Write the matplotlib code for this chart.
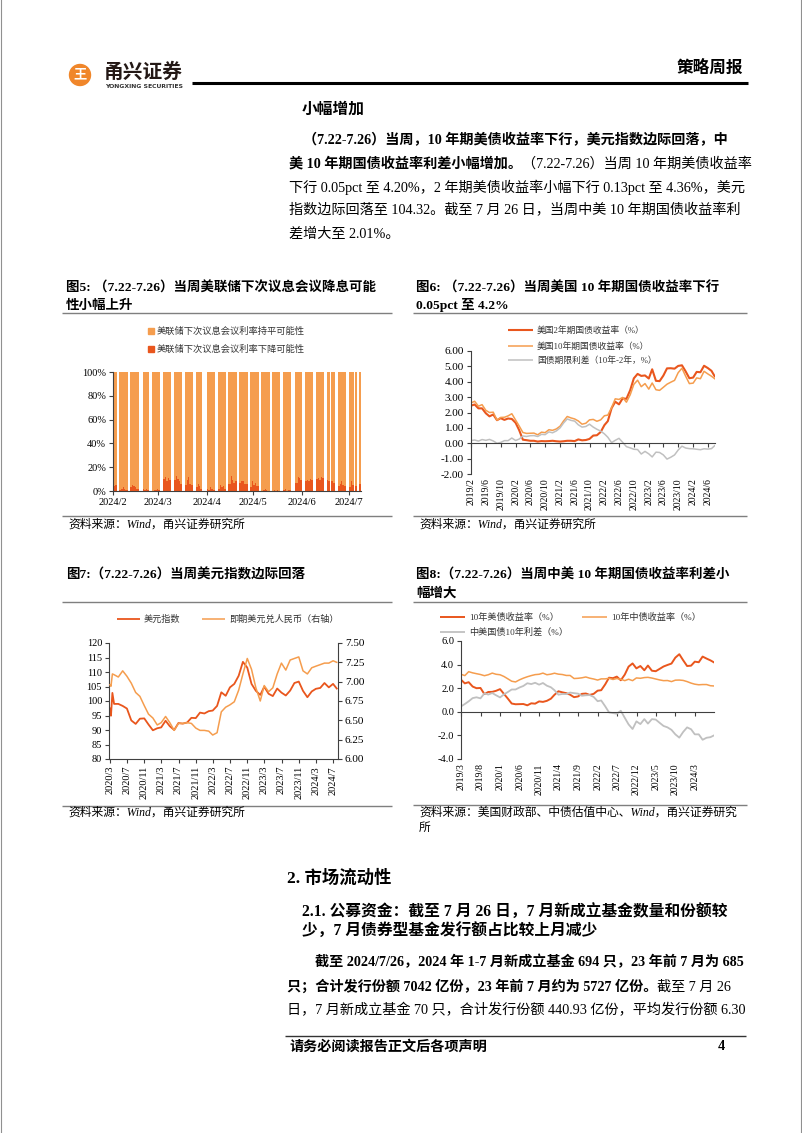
import matplotlib
matplotlib.use("Agg")
import matplotlib.pyplot as plt
import matplotlib.dates as mdates
from matplotlib.patches import Circle, Rectangle
from matplotlib.ticker import FuncFormatter
import numpy as np
import pandas as pd

W, H = 802, 1133
plt.rcParams["font.family"] = ["Liberation Serif", "Noto Sans CJK SC"]
plt.rcParams["axes.unicode_minus"] = False

DARK = "#E9561D"
LIGHT = "#F59D4E"
GRAY = "#C0C0C0"
AXC = "#404040"

# ---- 图5: 美联储下次议息会议利率概率 (%), 每个交易日
fed_holidays = ["2024-02-19", "2024-03-29", "2024-05-27", "2024-06-19", "2024-07-04"]
fed_down = [
    4, 5,
    1, 2, 3, 2, 1,
    3, 5, 4, 3, 2,
    2, 1, 2, 1,
    0, 1, 1, 2, 1,
    10, 12, 8, 11, 9,
    9, 13, 10, 8, 6,
    5, 9, 12, 6, 5,
    3, 6, 4, 2,
    2, 1, 3, 2, 1,
    2, 5, 3, 4, 2,
    6, 13, 9, 7, 8,
    7, 8, 8, 6, 6,
    3, 8, 5, 7, 4,
    0, 1, 2, 1, 0,
    0, 1, 0, 1, 0,
    1, 2, 0, 1, 1,
    7, 12, 11, 9,
    8, 9, 8, 10, 9,
    10, 11, 9, 12, 11,
    9, 8,
    8, 7,
    4, 6, 8, 5, 4,
    3, 8, 5,
    4,
    6,
]
fed_hold = [
    96, 95,
    99, 98, 97, 98, 99,
    97, 95, 96, 97, 98,
    98, 99, 98, 99,
    100, 99, 99, 98, 99,
    90, 88, 92, 89, 91,
    91, 87, 90, 92, 94,
    95, 91, 88, 94, 95,
    97, 94, 96, 98,
    98, 99, 97, 98, 99,
    98, 95, 97, 96, 98,
    94, 87, 91, 93, 92,
    93, 92, 92, 94, 94,
    97, 92, 95, 93, 96,
    100, 99, 98, 99, 100,
    100, 99, 100, 99, 100,
    99, 98, 100, 99, 99,
    93, 88, 89, 91,
    92, 91, 92, 90, 91,
    90, 89, 91, 88, 89,
    91, 92,
    92, 93,
    96, 94, 92, 95, 96,
    97, 92, 95,
    96,
    94,
]

# ---- 图6/图8: 月末收益率 (%), 2019/1 - 2024/6, 最后一点 2024/7/26
us10y = [2.63, 2.73, 2.41, 2.51, 2.14, 2.00, 2.02, 1.50, 1.68, 1.69, 1.78, 1.92,
         1.51, 1.13, 0.70, 0.64, 0.65, 0.66, 0.55, 0.72, 0.69, 0.88, 0.84, 0.93,
         1.11, 1.44, 1.74, 1.65, 1.58, 1.45, 1.24, 1.30, 1.52, 1.55, 1.43, 1.52,
         1.79, 1.83, 2.32, 2.89, 2.85, 2.98, 2.67, 3.15, 3.83, 4.10, 3.68, 3.88,
         3.52, 3.92, 3.48, 3.44, 3.64, 3.84, 3.97, 4.09, 4.59, 4.88, 4.37, 3.88,
         3.91, 4.25, 4.20, 4.68, 4.51, 4.36, 4.20]
us2y = [2.45, 2.52, 2.27, 2.27, 1.95, 1.75, 1.87, 1.50, 1.63, 1.52, 1.61, 1.58,
        1.33, 0.86, 0.23, 0.20, 0.16, 0.16, 0.11, 0.14, 0.13, 0.14, 0.16, 0.13,
        0.11, 0.13, 0.16, 0.16, 0.14, 0.25, 0.19, 0.21, 0.28, 0.50, 0.52, 0.73,
        1.18, 1.44, 2.28, 2.70, 2.53, 2.92, 2.89, 3.45, 4.22, 4.51, 4.38, 4.41,
        4.21, 4.81, 4.06, 4.04, 4.40, 4.87, 4.88, 4.85, 5.03, 5.07, 4.68, 4.23,
        4.27, 4.64, 4.62, 5.04, 4.89, 4.71, 4.36]
us_term = [0.18, 0.21, 0.14, 0.24, 0.19, 0.25, 0.15, 0.00, 0.05, 0.17, 0.17, 0.34,
           0.18, 0.27, 0.47, 0.44, 0.49, 0.50, 0.44, 0.58, 0.56, 0.74, 0.68, 0.80,
           1.00, 1.31, 1.58, 1.49, 1.44, 1.20, 1.05, 1.09, 1.24, 1.05, 0.91, 0.79,
           0.61, 0.39, 0.04, 0.19, 0.32, 0.06, -0.22, -0.30, -0.39, -0.41, -0.70, -0.53,
           -0.69, -0.89, -0.58, -0.60, -0.76, -1.03, -0.91, -0.76, -0.44, -0.19, -0.31, -0.35,
           -0.36, -0.39, -0.42, -0.36, -0.38, -0.35, -0.16]
cn10y = [3.10, 3.18, 3.07, 3.40, 3.30, 3.23, 3.16, 3.06, 3.14, 3.28, 3.18, 3.14,
         2.99, 2.80, 2.59, 2.53, 2.71, 2.85, 2.97, 3.07, 3.15, 3.18, 3.28, 3.14,
         3.19, 3.27, 3.19, 3.16, 3.08, 3.08, 2.82, 2.84, 2.88, 2.95, 2.85, 2.78,
         2.69, 2.79, 2.79, 2.84, 2.74, 2.82, 2.76, 2.64, 2.76, 2.64, 2.87, 2.84,
         2.90, 2.92, 2.86, 2.78, 2.70, 2.64, 2.65, 2.56, 2.68, 2.69, 2.66, 2.56,
         2.43, 2.34, 2.29, 2.31, 2.31, 2.21, 2.19]
cn_us = [0.47, 0.45, 0.66, 0.89, 1.16, 1.23, 1.14, 1.56, 1.46, 1.59, 1.40, 1.22,
         1.48, 1.67, 1.89, 1.89, 2.06, 2.19, 2.42, 2.35, 2.46, 2.30, 2.44, 2.21,
         2.08, 1.83, 1.45, 1.51, 1.50, 1.63, 1.58, 1.54, 1.36, 1.40, 1.42, 1.26,
         0.90, 0.96, 0.47, -0.05, -0.11, -0.16, 0.09, -0.51, -1.07, -1.46, -0.81, -1.04,
         -0.62, -1.00, -0.62, -0.66, -0.94, -1.20, -1.32, -1.53, -1.91, -2.19, -1.71, -1.32,
         -1.48, -1.91, -1.91, -2.37, -2.20, -2.15, -2.01]

# ---- 图7: 美元指数 / 即期美元兑人民币, 2020/3 三个点 + 月末 + 2024/7/26
dxy = [97.4, 94.9, 102.8,
       99.0, 99.0, 98.3, 97.4, 93.3, 92.1, 93.9, 94.0, 91.9, 89.9,
       90.6, 90.9, 93.2, 91.3, 90.0, 92.4, 92.2, 92.6, 94.2, 94.1, 96.0, 95.7,
       96.5, 96.7, 98.3, 103.0, 101.8, 104.7, 105.9, 108.7, 113.5, 111.5, 105.9, 103.5,
       102.1, 104.9, 102.5, 101.7, 104.3, 102.9, 101.9, 103.6, 106.2, 106.7, 103.5, 101.3,
       103.3, 104.2, 104.5, 106.2, 104.7, 105.9, 104.3]
usdcny = [6.96, 6.94, 7.10,
          7.09, 7.06, 7.14, 7.07, 6.98, 6.86, 6.81, 6.69, 6.58, 6.53,
          6.44, 6.47, 6.55, 6.47, 6.37, 6.46, 6.46, 6.47, 6.46, 6.40, 6.37, 6.37,
          6.36, 6.31, 6.34, 6.61, 6.67, 6.70, 6.74, 6.89, 7.10, 7.30, 7.16, 6.92,
          6.75, 6.95, 6.87, 6.92, 7.10, 7.24, 7.15, 7.28, 7.30, 7.32, 7.14, 7.10,
          7.18, 7.20, 7.22, 7.24, 7.24, 7.27, 7.25]

fed_dates = pd.bdate_range("2024-02-01", "2024-07-08", freq="C", holidays=fed_holidays)
us_dates = list(pd.date_range("2019-01-31", "2024-06-30", freq="ME")) + [pd.Timestamp("2024-07-26")]
fx_dates = (list(pd.to_datetime(["2020-03-02", "2020-03-09", "2020-03-19"]))
            + list(pd.date_range("2020-03-31", "2024-06-30", freq="ME"))
            + [pd.Timestamp("2024-07-26")])

fig = plt.figure(figsize=(W / 100, H / 100), dpi=100)
page = fig.add_axes([0, 0, 1, 1])
page.set_xlim(0, W)
page.set_ylim(H, 0)
page.axis("off")


def box(x0, y0, x1, y1):
    return [x0 / W, 1 - y1 / H, (x1 - x0) / W, (y1 - y0) / H]


def txt(x, y, s, size, bold=False, **kw):
    kw.setdefault("ha", "left")
    kw.setdefault("va", "center")
    return page.text(x, y, s, fontsize=size, fontweight="bold" if bold else "normal",
                     color=kw.pop("color", "black"), **kw)


def runs(x, y, parts, size):
    prev = None
    for s, bold in parts:
        w = "bold" if bold else "normal"
        if prev is None:
            prev = page.text(x, y, s, fontsize=size, fontweight=w, ha="left", va="center")
        else:
            prev = page.annotate(s, xy=(1, 0.5), xycoords=prev, fontsize=size,
                                 fontweight=w, ha="left", va="center")


def hline(x0, x1, y, color, lw):
    page.plot([x0, x1], [y, y], color=color, lw=lw, solid_capstyle="butt")


def leg_line(x0, x1, y, color, lw, label, size=6.6):
    hline(x0, x1, y, color, lw)
    txt(x1 + 4, y, label, size, color="#333333")


def style_axes(ax, size=7.5):
    for s in ["top", "right"]:
        ax.spines[s].set_visible(False)
    for s in ["left", "bottom"]:
        ax.spines[s].set_color(AXC)
        ax.spines[s].set_linewidth(0.8)
    ax.tick_params(direction="out", length=3, width=0.8, color=AXC, labelsize=size, pad=2)
    ax.set_facecolor("none")


def ym(d):
    return f"{d.year}/{d.month}"


def low_labels(ax, ticks, size=7):
    ax.tick_params(axis="x", labelbottom=False)
    for d in ticks:
        ax.annotate(ym(d), xy=(mdates.date2num(d), 0), xycoords=("data", "axes fraction"),
                    xytext=(0, -3), textcoords="offset points", rotation=90,
                    ha="center", va="top", fontsize=size)


# ---- page frame and header
page.plot([0.8, 0.8], [0, H], color="#909090", lw=0.8)
page.plot([W - 0.8, W - 0.8], [0, H], color="#909090", lw=0.8)
page.add_patch(Circle((80, 75), 10.5, color="#F0862A", zorder=3))
txt(80, 75, "王", 9.5, bold=True, ha="center", color="white", zorder=4)
txt(104, 72, "甬兴证券", 14.2, bold=True, color="#231815", family="Noto Sans CJK SC")
txt(105, 87, "YONGXING SECURITIES", 4.4, bold=True, color="#333333", family="DejaVu Sans")
hline(192, 748, 83, "black", 2.2)
txt(743, 69, "策略周报", 12, bold=True, ha="right")

# ---- body text
txt(302, 110, "小幅增加", 11.3, bold=True)
BS = 10.2
runs(303, 140, [("（7.22-7.26）当周，10 年期美债收益率下行，美元指数边际回落，中", True)], BS)
runs(289, 163.5, [("美 10 年期国债收益率利差小幅增加。", True),
                  ("（7.22-7.26）当周 10 年期美债收益率", False)], BS)
runs(289, 187, [("下行 0.05pct 至 4.20%，2 年期美债收益率小幅下行 0.13pct 至 4.36%，美元", False)], BS)
runs(289, 210.5, [("指数边际回落至 104.32。截至 7 月 26 日，当周中美 10 年期国债收益率利", False)], BS)
runs(289, 234, [("差增大至 2.01%。", False)], BS)

# ---- figure frames
TS = 9.7
SS = 8.5
for x0, x1, ytop, ybot in [(62, 392, 313, 516), (413, 747, 313, 516),
                           (62, 392, 602, 806), (413, 747, 602, 805)]:
    hline(x0, x1, ytop, "#7F7F7F", 1.0)
    hline(x0, x1, ybot, "#7F7F7F", 1.0)

txt(66, 288, "图5: （7.22-7.26）当周美联储下次议息会议降息可能", TS, bold=True)
txt(66, 305.5, "性小幅上升", TS, bold=True)
txt(416, 288, "图6: （7.22-7.26）当周美国 10 年期国债收益率下行", TS, bold=True)
txt(416, 305.5, "0.05pct 至 4.2%", TS, bold=True)
txt(66, 575, "图7:（7.22-7.26）当周美元指数边际回落", TS, bold=True)
txt(416, 575, "图8:（7.22-7.26）当周中美 10 年期国债收益率利差小", TS, bold=True)
txt(416, 593, "幅增大", TS, bold=True)

txt(68, 525, "资料来源：Wind，甬兴证券研究所", SS, fontstyle="italic")
txt(419, 525, "资料来源：Wind，甬兴证券研究所", SS, fontstyle="italic")
txt(68, 813, "资料来源：Wind，甬兴证券研究所", SS, fontstyle="italic")
txt(419, 813, "资料来源：美国财政部、中债估值中心、Wind，甬兴证券研究", SS, fontstyle="italic")
txt(419, 828, "所", SS, fontstyle="italic")

# ---- 图5
page.add_patch(Rectangle((148, 328), 6, 6, color=LIGHT))
txt(157, 331, "美联储下次议息会议利率持平可能性", 6.7, color="#333333")
page.add_patch(Rectangle((148, 346), 6, 6, color=DARK))
txt(157, 349, "美联储下次议息会议利率下降可能性", 6.7, color="#333333")

ax5 = fig.add_axes(box(113, 372, 361, 491))
x5 = mdates.date2num(fed_dates)
ax5.bar(x5, fed_down, width=1.35, align="edge", color=DARK, lw=0, antialiased=False)
ax5.bar(x5, fed_hold, bottom=fed_down, width=1.35, align="edge", color=LIGHT, lw=0,
        antialiased=False, zorder=1.5)
ax5.xaxis_date()
ax5.set_xlim(pd.Timestamp("2024-02-01"), pd.Timestamp("2024-07-09"))
ax5.set_ylim(0, 100)
ax5.set_yticks(range(0, 101, 20))
ax5.yaxis.set_major_formatter(FuncFormatter(lambda v, _: f"{v:.0f}%"))
t5 = pd.date_range("2024-02-01", "2024-07-01", freq="MS")
ax5.set_xticks(mdates.date2num(t5))
ax5.set_xticklabels([ym(d) for d in t5])
style_axes(ax5)

# ---- 图6
leg_line(508, 533, 330, DARK, 1.5, "美国2年期国债收益率（%）", 6.3)
leg_line(508, 533, 346, LIGHT, 1.1, "美国10年期国债收益率（%）", 6.3)
leg_line(508, 533, 360, GRAY, 1.1, "国债期限利差（10年-2年，%）", 6.3)

ax6 = fig.add_axes(box(471, 351, 715, 474))
ax6.plot(us_dates, us2y, color=DARK, lw=1.5)
ax6.plot(us_dates, us10y, color=LIGHT, lw=1.1)
ax6.plot(us_dates, us_term, color=GRAY, lw=1.1)
ax6.set_xlim(pd.Timestamp("2019-01-29"), pd.Timestamp("2024-07-29"))
ax6.set_ylim(-2, 6)
ax6.set_yticks(np.arange(-2, 6.01, 1))
ax6.yaxis.set_major_formatter(FuncFormatter(lambda v, _: f"{v:.2f}"))
t6 = pd.date_range("2019-02-01", "2024-06-01", freq="4MS")
ax6.set_xticks(t6)
style_axes(ax6, 8)
ax6.spines["bottom"].set_position(("data", 0))
low_labels(ax6, t6)

# ---- 图7
leg_line(117, 140, 619, DARK, 1.3, "美元指数")
leg_line(202, 225, 619, LIGHT, 1.1, "即期美元兑人民币（右轴）")

ax7 = fig.add_axes(box(109, 643, 338, 759))
ax7.plot(fx_dates, dxy, color=DARK, lw=1.3)
ax7.set_xlim(pd.Timestamp("2020-02-24"), pd.Timestamp("2024-08-04"))
ax7.set_ylim(80, 120)
ax7.set_yticks(range(80, 121, 5))
t7 = pd.date_range("2020-03-01", "2024-07-01", freq="4MS")
ax7.set_xticks(t7)
ax7.set_xticklabels([ym(d) for d in t7], rotation=90, fontsize=7)
style_axes(ax7)
ax7r = ax7.twinx()
ax7r.plot(fx_dates, usdcny, color=LIGHT, lw=1.1)
ax7r.set_ylim(6.0, 7.5)
ax7r.set_yticks(np.arange(6.0, 7.51, 0.25))
ax7r.yaxis.set_major_formatter(FuncFormatter(lambda v, _: f"{v:.2f}"))
for s in ["top", "left", "bottom"]:
    ax7r.spines[s].set_visible(False)
ax7r.spines["right"].set_color(AXC)
ax7r.spines["right"].set_linewidth(0.8)
ax7r.tick_params(direction="out", length=3, width=0.8, color=AXC, labelsize=8, pad=2)

# ---- 图8
leg_line(440, 465, 617, DARK, 1.4, "10年美债收益率（%）")
leg_line(582, 607, 617, LIGHT, 1.1, "10年中债收益率（%）")
leg_line(440, 465, 632, GRAY, 1.3, "中美国债10年利差（%）")

ax8 = fig.add_axes(box(461, 641, 714, 759))
ax8.plot(us_dates, us10y, color=DARK, lw=1.4)
ax8.plot(us_dates, cn10y, color=LIGHT, lw=1.1)
ax8.plot(us_dates, cn_us, color=GRAY, lw=1.3)
ax8.set_xlim(pd.Timestamp("2019-03-01"), pd.Timestamp("2024-07-28"))
ax8.set_ylim(-4, 6)
ax8.set_yticks(np.arange(-4, 6.01, 2))
ax8.yaxis.set_major_formatter(FuncFormatter(lambda v, _: f"{v:.1f}"))
t8 = pd.date_range("2019-03-01", "2024-03-01", freq="5MS")
ax8.set_xticks(t8)
style_axes(ax8)
ax8.spines["bottom"].set_position(("data", 0))
low_labels(ax8, t8)

# ---- section 2
txt(287, 878, "2. 市场流动性", 12.5, bold=True)
txt(302, 913, "2.1. 公募资金：截至 7 月 26 日，7 月新成立基金数量和份额较", 11.3, bold=True)
txt(302, 932, "少，7 月债券型基金发行额占比较上月减少", 11.3, bold=True)
runs(315, 962, [("截至 2024/7/26，2024 年 1-7 月新成立基金 694 只，23 年前 7 月为 685", True)], BS)
runs(287, 987, [("只；合计发行份额 7042 亿份，23 年前 7 月约为 5727 亿份。", True),
                ("截至 7 月 26", False)], BS)
runs(287, 1010, [("日，7 月新成立基金 70 只，合计发行份额 440.93 亿份，平均发行份额 6.30", False)], BS)

# ---- footer
hline(285, 746, 1036, "#333333", 1.0)
txt(289, 1047, "请务必阅读报告正文后各项声明", BS, bold=True)
txt(721, 1047, "4", BS, bold=True, ha="center")

fig.savefig("out.png", dpi=100)
